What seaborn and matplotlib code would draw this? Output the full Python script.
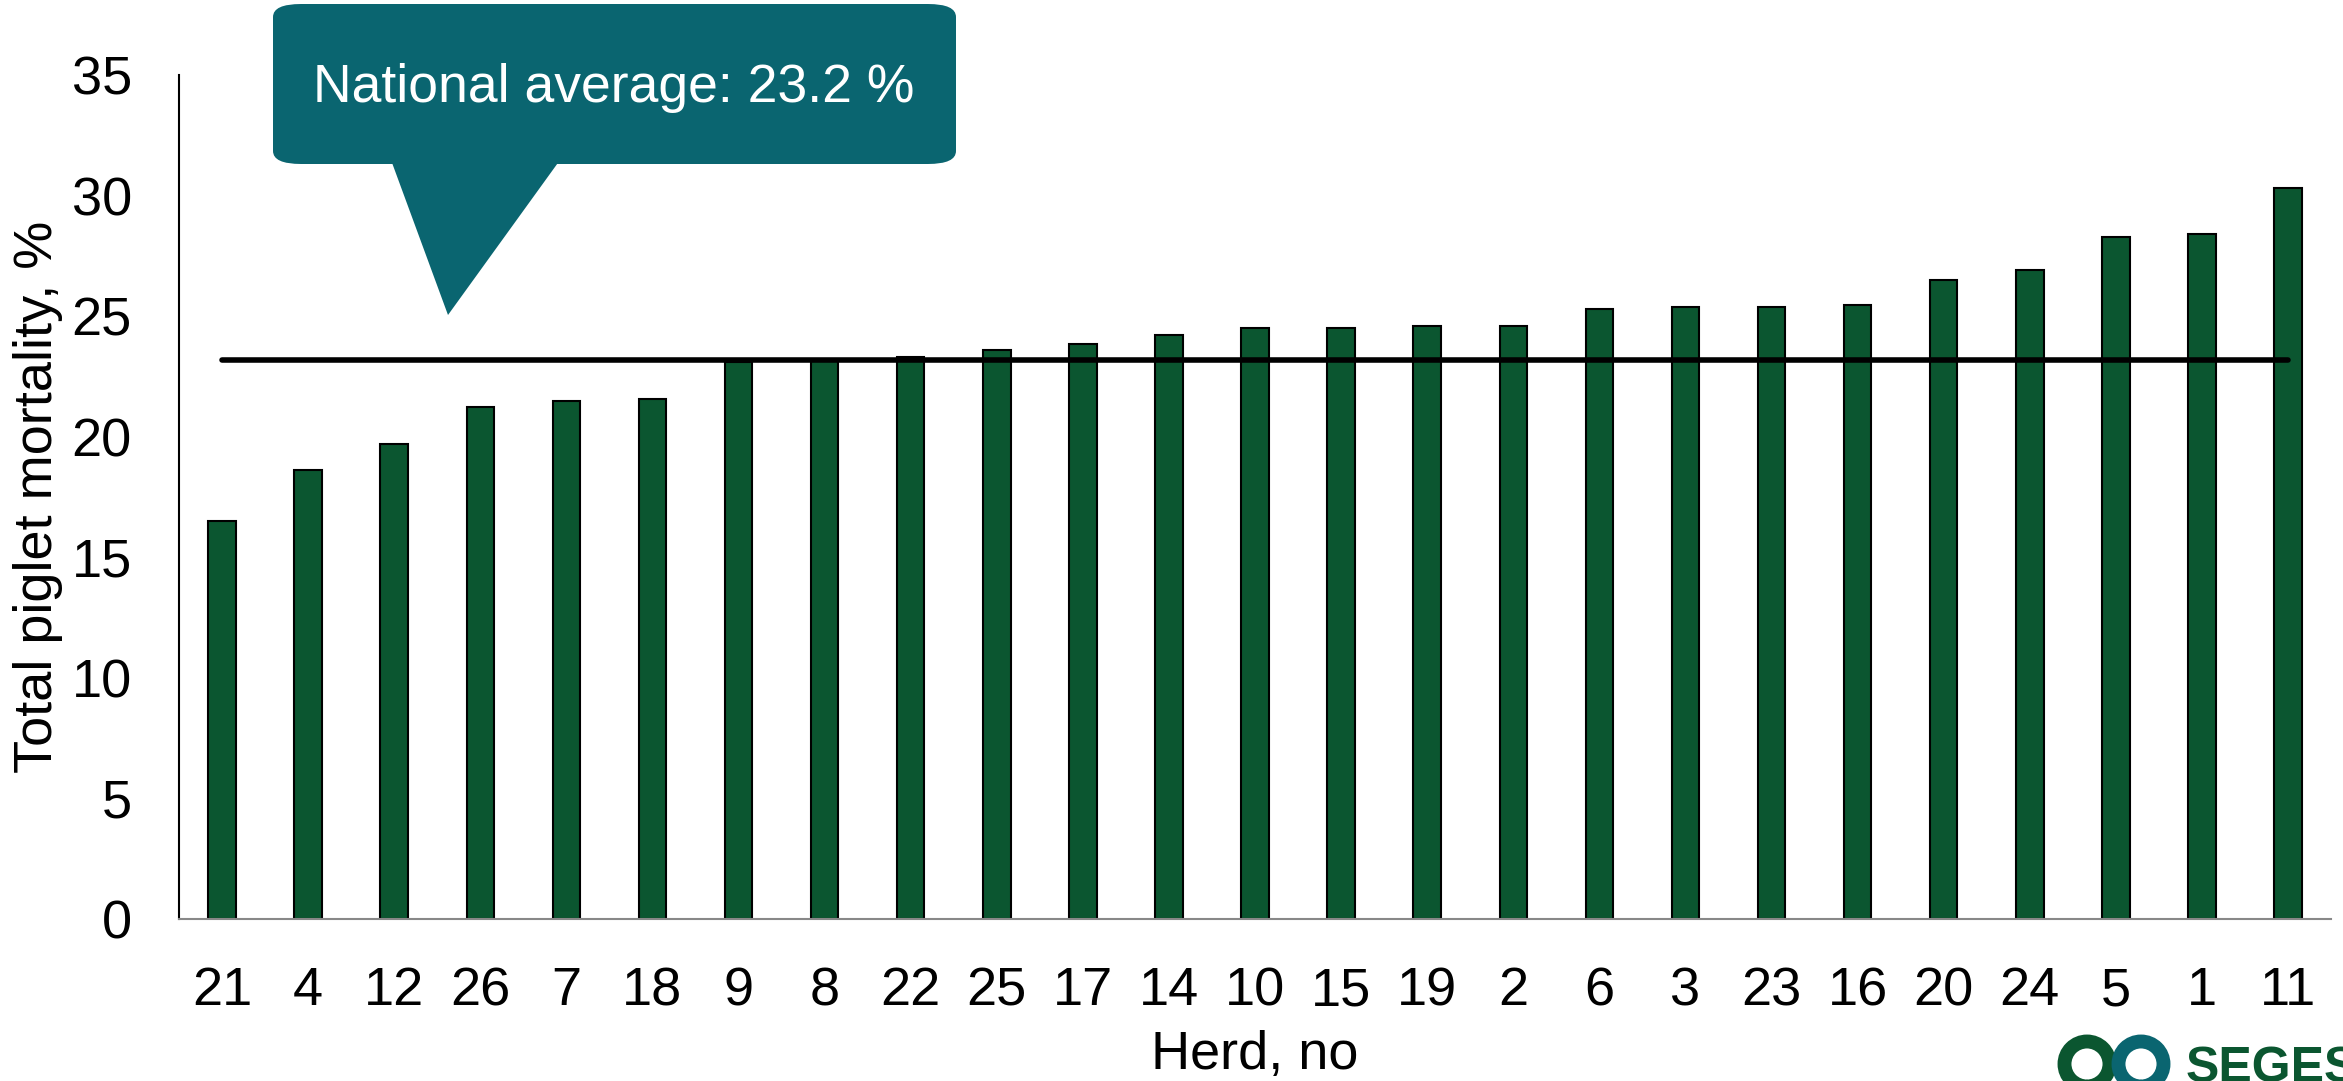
import matplotlib
matplotlib.use("Agg")
import matplotlib.pyplot as plt
from matplotlib.patches import FancyBboxPatch, Polygon, Circle
from matplotlib.transforms import IdentityTransform
import seaborn as sns
import pandas as pd

# herd numbers, sorted by mortality
herds = ["21", "4", "12", "26", "7", "18", "9", "8", "22", "25", "17", "14", "10",
         "15", "19", "2", "6", "3", "23", "16", "20", "24", "5", "1", "11"]
mortality = [16.5, 18.6, 19.7, 21.25, 21.5, 21.55, 23.1, 23.2, 23.3, 23.6, 23.85, 24.2, 24.5,
             24.5, 24.6, 24.6, 25.3, 25.4, 25.4, 25.45, 26.5, 26.9, 28.3, 28.4, 30.3]
national_avg = 23.2
yticks = [0, 5, 10, 15, 20, 25, 30, 35]

df = pd.DataFrame({"herd": herds, "mortality": mortality})

sns.set_style("white")
plt.rcParams["font.family"] = ["Liberation Sans", "DejaVu Sans"]
for k in ["text.color", "axes.labelcolor", "xtick.color", "ytick.color"]:
    plt.rcParams[k] = "black"

fig = plt.figure(figsize=(23.43, 10.81), dpi=100)
ax = fig.add_axes([0.0764, 0.1499, 0.9185, 0.7807])

sns.barplot(data=df, x="herd", y="mortality", order=herds, color="#0B5630",
            saturation=1, edgecolor="black", linewidth=1.5, width=0.32, ax=ax)

# national average line, from first to last bar
ax.plot([0, len(herds) - 1], [national_avg, national_avg], color="black",
        linewidth=4, solid_capstyle="round", zorder=5)

ax.set_ylim(0, 35)
ax.set_xlim(-0.5, len(herds) - 0.5)
ax.set_yticks(yticks)
ax.tick_params(axis="both", length=0, labelsize=39)
ax.tick_params(axis="y", pad=34)
ax.tick_params(axis="x", pad=34)
ax.set_xlabel("Herd, no", fontsize=39, labelpad=10)
ax.set_ylabel("Total piglet mortality, %", fontsize=39, labelpad=6)

for s in ["top", "right"]:
    ax.spines[s].set_visible(False)
ax.spines["left"].set_color("black")
ax.spines["left"].set_linewidth(1.5)
ax.spines["bottom"].set_color("#888888")
ax.spines["bottom"].set_linewidth(1.5)

# callout bubble
W, H = 2343, 1081
def fx(px):
    return px / W
def fy(py):
    return 1 - py / H

teal = "#0A6570"
box = FancyBboxPatch((fx(273), fy(164)), fx(956) - fx(273), fy(4) - fy(164),
                     boxstyle="round,pad=0,rounding_size=0.012",
                     transform=fig.transFigure, facecolor=teal, edgecolor="none")
fig.patches.append(box)
tail = Polygon([(fx(391), fy(160)), (fx(560), fy(160)), (fx(448), fy(315))],
               closed=True, transform=fig.transFigure, facecolor=teal, edgecolor="none")
fig.patches.append(tail)
fig.text(fx(614), fy(88), "National average: 23.2 %", color="white", fontsize=38.5,
         ha="center", va="center")

# logo (partially cut at the bottom edge), drawn in pixel space
green = "#0B5630"
for cx, col in [(2087, green), (2141, teal)]:
    ring = Circle((cx, H - 1064), 22.5, transform=IdentityTransform(),
                  facecolor="none", edgecolor=col, linewidth=10)
    fig.patches.append(ring)
fig.text(fx(2186), fy(1046), "SEGES", color=green, fontsize=36, fontweight="bold",
         ha="left", va="top")

fig.savefig("out.png", dpi=100)
